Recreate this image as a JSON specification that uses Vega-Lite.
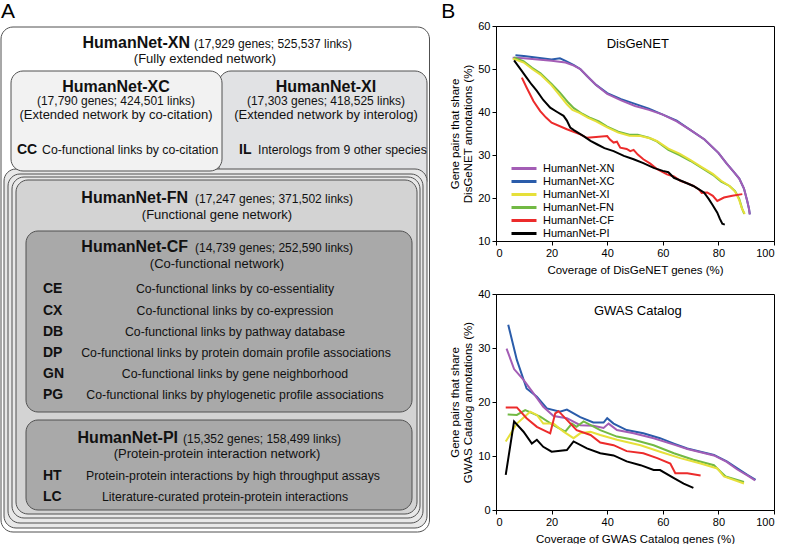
{
  "$schema": "https://vega.github.io/schema/vega-lite/v6.json",
  "padding": 0,
  "background": "white",
  "spacing": 10,
  "config": {
    "font": "Liberation Sans",
    "axis": {"labelFont": "Liberation Sans", "labelFontSize": 11, "labelColor": "black", "titleFont": "Liberation Sans", "titleFontSize": 11.5, "titleFontWeight": "normal", "titleColor": "black", "domainColor": "black", "tickColor": "black", "tickSize": 4, "grid": false, "labelPadding": 2},
    "title": {"font": "Liberation Sans", "color": "black"}
  },
  "datasets": {
    "boxes": [
      {"b": "XN", "x0": 1, "x1": 429.5, "y0": 26, "y1": 531, "tone": "xn"},
      {"b": "XI top", "x0": 219, "x1": 427, "y0": 70, "y1": 190, "tone": "xi"},
      {"b": "XI low", "x0": 4, "x1": 427, "y0": 168, "y1": 527, "tone": "low"},
      {"b": "XC top", "x0": 11, "x1": 222, "y0": 70, "y1": 170, "tone": "xc"},
      {"b": "XC low", "x0": 8, "x1": 423, "y0": 173, "y1": 522, "tone": "low"},
      {"b": "FN outer", "x0": 12, "x1": 420, "y0": 176, "y1": 517, "tone": "low"},
      {"b": "FN", "x0": 16, "x1": 417, "y0": 179, "y1": 513, "tone": "fn"},
      {"b": "CF", "x0": 26, "x1": 412, "y0": 230, "y1": 411, "tone": "cf"},
      {"b": "PI", "x0": 26, "x1": 412, "y0": 419, "y1": 509, "tone": "cf"}
    ],
    "labels": [
      {"kind": "name", "px": 190, "py": 47, "t": "HumanNet-XN"},
      {"kind": "detail", "px": 194, "py": 47, "t": "(17,929 genes; 525,537 links)"},
      {"kind": "sub", "px": 205, "py": 62, "t": "(Fully extended network)"},
      {"kind": "nameC", "px": 116, "py": 91, "t": "HumanNet-XC"},
      {"kind": "detailC", "px": 116, "py": 104, "t": "(17,790 genes; 424,501 links)"},
      {"kind": "sub", "px": 116, "py": 118, "t": "(Extended network by co-citation)"},
      {"kind": "code", "px": 17, "py": 153, "t": "CC"},
      {"kind": "descL", "px": 42, "py": 153, "t": "Co-functional links by co-citation"},
      {"kind": "nameC", "px": 326, "py": 91, "t": "HumanNet-XI"},
      {"kind": "detailC", "px": 326, "py": 104, "t": "(17,303 genes; 418,525 links)"},
      {"kind": "sub", "px": 326, "py": 118, "t": "(Extended network by interolog)"},
      {"kind": "code", "px": 239, "py": 153, "t": "IL"},
      {"kind": "descL", "px": 258, "py": 153, "t": "Interologs from 9 other species"},
      {"kind": "name", "px": 188, "py": 202, "t": "HumanNet-FN"},
      {"kind": "detail", "px": 195, "py": 202, "t": "(17,247 genes; 371,502 links)"},
      {"kind": "sub", "px": 217, "py": 218, "t": "(Functional gene network)"},
      {"kind": "name", "px": 188, "py": 251, "t": "HumanNet-CF"},
      {"kind": "detail", "px": 195, "py": 251, "t": "(14,739 genes; 252,590 links)"},
      {"kind": "sub", "px": 217, "py": 267, "t": "(Co-functional network)"},
      {"kind": "code", "px": 43, "py": 292, "t": "CE"},
      {"kind": "desc", "px": 235, "py": 292, "t": "Co-functional links by co-essentiality"},
      {"kind": "code", "px": 43, "py": 313.5, "t": "CX"},
      {"kind": "desc", "px": 235, "py": 313.5, "t": "Co-functional links by co-expression"},
      {"kind": "code", "px": 43, "py": 335, "t": "DB"},
      {"kind": "desc", "px": 235, "py": 335, "t": "Co-functional links by pathway database"},
      {"kind": "code", "px": 43, "py": 356, "t": "DP"},
      {"kind": "desc", "px": 236, "py": 356, "t": "Co-functional links by protein domain profile associations"},
      {"kind": "code", "px": 43, "py": 377, "t": "GN"},
      {"kind": "desc", "px": 235, "py": 377, "t": "Co-functional links by gene neighborhood"},
      {"kind": "code", "px": 43, "py": 398, "t": "PG"},
      {"kind": "desc", "px": 235, "py": 398, "t": "Co-functional links by phylogenetic profile associations"},
      {"kind": "name", "px": 178, "py": 442, "t": "HumanNet-PI"},
      {"kind": "detail", "px": 183, "py": 442, "t": "(15,352 genes; 158,499 links)"},
      {"kind": "sub", "px": 217, "py": 457, "t": "(Protein-protein interaction network)"},
      {"kind": "code", "px": 43, "py": 479, "t": "HT"},
      {"kind": "desc", "px": 233, "py": 479, "t": "Protein-protein interactions by high throughput assays"},
      {"kind": "code", "px": 43, "py": 500, "t": "LC"},
      {"kind": "desc", "px": 225, "py": 500, "t": "Literature-curated protein-protein interactions"}
    ],
    "disgenet": [
      {"net": "HumanNet-XC", "cov": 7, "share": 53.2}, {"net": "HumanNet-XC", "cov": 10, "share": 53}, {"net": "HumanNet-XC", "cov": 15, "share": 52.6}, {"net": "HumanNet-XC", "cov": 20, "share": 52.2}, {"net": "HumanNet-XC", "cov": 23, "share": 52.5}, {"net": "HumanNet-XC", "cov": 25, "share": 51.9}, {"net": "HumanNet-XC", "cov": 28, "share": 50.9}, {"net": "HumanNet-XC", "cov": 30.3, "share": 50}, {"net": "HumanNet-XC", "cov": 33, "share": 48.2}, {"net": "HumanNet-XC", "cov": 36, "share": 46.3}, {"net": "HumanNet-XC", "cov": 40, "share": 44.4}, {"net": "HumanNet-XC", "cov": 45, "share": 43}, {"net": "HumanNet-XC", "cov": 50, "share": 41.9}, {"net": "HumanNet-XC", "cov": 55, "share": 40.8}, {"net": "HumanNet-XC", "cov": 60, "share": 39.4}, {"net": "HumanNet-XC", "cov": 65, "share": 38}, {"net": "HumanNet-XC", "cov": 70, "share": 35.8}, {"net": "HumanNet-XC", "cov": 75, "share": 33.6}, {"net": "HumanNet-XC", "cov": 80, "share": 30.5}, {"net": "HumanNet-XC", "cov": 83, "share": 28}, {"net": "HumanNet-XC", "cov": 85.6, "share": 26}, {"net": "HumanNet-XC", "cov": 87.5, "share": 24.5}, {"net": "HumanNet-XC", "cov": 89.2, "share": 22.2}, {"net": "HumanNet-XC", "cov": 90.3, "share": 19.5}, {"net": "HumanNet-XC", "cov": 91, "share": 17.5}, {"net": "HumanNet-XC", "cov": 91.3, "share": 16.2},
      {"net": "HumanNet-XN", "cov": 6, "share": 52.6}, {"net": "HumanNet-XN", "cov": 10, "share": 52.5}, {"net": "HumanNet-XN", "cov": 15, "share": 52.2}, {"net": "HumanNet-XN", "cov": 20, "share": 51.9}, {"net": "HumanNet-XN", "cov": 25, "share": 51.5}, {"net": "HumanNet-XN", "cov": 28, "share": 50.8}, {"net": "HumanNet-XN", "cov": 30.3, "share": 50}, {"net": "HumanNet-XN", "cov": 33, "share": 48.2}, {"net": "HumanNet-XN", "cov": 36, "share": 46.3}, {"net": "HumanNet-XN", "cov": 40, "share": 44.2}, {"net": "HumanNet-XN", "cov": 45, "share": 42.7}, {"net": "HumanNet-XN", "cov": 50, "share": 41.4}, {"net": "HumanNet-XN", "cov": 55, "share": 40.5}, {"net": "HumanNet-XN", "cov": 60, "share": 39.4}, {"net": "HumanNet-XN", "cov": 65, "share": 37.8}, {"net": "HumanNet-XN", "cov": 70, "share": 35.8}, {"net": "HumanNet-XN", "cov": 75, "share": 33.6}, {"net": "HumanNet-XN", "cov": 80, "share": 30.5}, {"net": "HumanNet-XN", "cov": 83, "share": 28}, {"net": "HumanNet-XN", "cov": 85.6, "share": 26}, {"net": "HumanNet-XN", "cov": 87.5, "share": 24.5}, {"net": "HumanNet-XN", "cov": 89.2, "share": 22.2}, {"net": "HumanNet-XN", "cov": 90.3, "share": 19.5}, {"net": "HumanNet-XN", "cov": 91, "share": 17.5}, {"net": "HumanNet-XN", "cov": 91.3, "share": 16.2},
      {"net": "HumanNet-FN", "cov": 6.5, "share": 52.7}, {"net": "HumanNet-FN", "cov": 10, "share": 51.8}, {"net": "HumanNet-FN", "cov": 13, "share": 50.3}, {"net": "HumanNet-FN", "cov": 16, "share": 49}, {"net": "HumanNet-FN", "cov": 20, "share": 46.5}, {"net": "HumanNet-FN", "cov": 23, "share": 44.5}, {"net": "HumanNet-FN", "cov": 26, "share": 42.2}, {"net": "HumanNet-FN", "cov": 28, "share": 40.9}, {"net": "HumanNet-FN", "cov": 31, "share": 39.6}, {"net": "HumanNet-FN", "cov": 34, "share": 38.6}, {"net": "HumanNet-FN", "cov": 37, "share": 37.8}, {"net": "HumanNet-FN", "cov": 40, "share": 36.6}, {"net": "HumanNet-FN", "cov": 44, "share": 35.4}, {"net": "HumanNet-FN", "cov": 48, "share": 34.7}, {"net": "HumanNet-FN", "cov": 51, "share": 34.7}, {"net": "HumanNet-FN", "cov": 55, "share": 34}, {"net": "HumanNet-FN", "cov": 58, "share": 33.1}, {"net": "HumanNet-FN", "cov": 62, "share": 31.2}, {"net": "HumanNet-FN", "cov": 66, "share": 30}, {"net": "HumanNet-FN", "cov": 70, "share": 28.6}, {"net": "HumanNet-FN", "cov": 74, "share": 27}, {"net": "HumanNet-FN", "cov": 78, "share": 25.4}, {"net": "HumanNet-FN", "cov": 81, "share": 23.8}, {"net": "HumanNet-FN", "cov": 84, "share": 22.8}, {"net": "HumanNet-FN", "cov": 86, "share": 21.6}, {"net": "HumanNet-FN", "cov": 87.5, "share": 19.8}, {"net": "HumanNet-FN", "cov": 88.5, "share": 17.6}, {"net": "HumanNet-FN", "cov": 89.3, "share": 16.3},
      {"net": "HumanNet-XI", "cov": 6, "share": 52.4}, {"net": "HumanNet-XI", "cov": 10, "share": 51.5}, {"net": "HumanNet-XI", "cov": 13, "share": 50}, {"net": "HumanNet-XI", "cov": 16, "share": 48.7}, {"net": "HumanNet-XI", "cov": 20, "share": 46.2}, {"net": "HumanNet-XI", "cov": 23, "share": 43.8}, {"net": "HumanNet-XI", "cov": 25.5, "share": 41.8}, {"net": "HumanNet-XI", "cov": 27.5, "share": 40.5}, {"net": "HumanNet-XI", "cov": 30, "share": 39.8}, {"net": "HumanNet-XI", "cov": 33, "share": 38.7}, {"net": "HumanNet-XI", "cov": 36, "share": 37.8}, {"net": "HumanNet-XI", "cov": 40, "share": 36.4}, {"net": "HumanNet-XI", "cov": 44, "share": 35.2}, {"net": "HumanNet-XI", "cov": 48, "share": 34.5}, {"net": "HumanNet-XI", "cov": 52, "share": 34.4}, {"net": "HumanNet-XI", "cov": 56, "share": 33.8}, {"net": "HumanNet-XI", "cov": 58, "share": 33.2}, {"net": "HumanNet-XI", "cov": 62, "share": 31.5}, {"net": "HumanNet-XI", "cov": 66, "share": 30.3}, {"net": "HumanNet-XI", "cov": 70, "share": 28.8}, {"net": "HumanNet-XI", "cov": 74, "share": 27.2}, {"net": "HumanNet-XI", "cov": 78, "share": 25.6}, {"net": "HumanNet-XI", "cov": 81, "share": 24}, {"net": "HumanNet-XI", "cov": 84, "share": 22.8}, {"net": "HumanNet-XI", "cov": 86, "share": 21.5}, {"net": "HumanNet-XI", "cov": 87.5, "share": 19.5}, {"net": "HumanNet-XI", "cov": 88.5, "share": 17.5}, {"net": "HumanNet-XI", "cov": 89.5, "share": 16.3},
      {"net": "HumanNet-CF", "cov": 9.3, "share": 48}, {"net": "HumanNet-CF", "cov": 11, "share": 45.7}, {"net": "HumanNet-CF", "cov": 13.5, "share": 42.5}, {"net": "HumanNet-CF", "cov": 15.9, "share": 40.2}, {"net": "HumanNet-CF", "cov": 18, "share": 38.7}, {"net": "HumanNet-CF", "cov": 20, "share": 37.5}, {"net": "HumanNet-CF", "cov": 25.5, "share": 36}, {"net": "HumanNet-CF", "cov": 30.3, "share": 34.8}, {"net": "HumanNet-CF", "cov": 32.7, "share": 34}, {"net": "HumanNet-CF", "cov": 36, "share": 34.2}, {"net": "HumanNet-CF", "cov": 40, "share": 34.4}, {"net": "HumanNet-CF", "cov": 41, "share": 33.6}, {"net": "HumanNet-CF", "cov": 42.3, "share": 32.9}, {"net": "HumanNet-CF", "cov": 43.5, "share": 33.1}, {"net": "HumanNet-CF", "cov": 44.7, "share": 31.7}, {"net": "HumanNet-CF", "cov": 47, "share": 31.4}, {"net": "HumanNet-CF", "cov": 48.3, "share": 30.9}, {"net": "HumanNet-CF", "cov": 49.5, "share": 31.2}, {"net": "HumanNet-CF", "cov": 51, "share": 30.1}, {"net": "HumanNet-CF", "cov": 53, "share": 29}, {"net": "HumanNet-CF", "cov": 55.5, "share": 28}, {"net": "HumanNet-CF", "cov": 58, "share": 26.7}, {"net": "HumanNet-CF", "cov": 61.5, "share": 25.5}, {"net": "HumanNet-CF", "cov": 64, "share": 25}, {"net": "HumanNet-CF", "cov": 66.3, "share": 24}, {"net": "HumanNet-CF", "cov": 68.5, "share": 23.5}, {"net": "HumanNet-CF", "cov": 71, "share": 22.8}, {"net": "HumanNet-CF", "cov": 73, "share": 22}, {"net": "HumanNet-CF", "cov": 74, "share": 21.2}, {"net": "HumanNet-CF", "cov": 76, "share": 21.3}, {"net": "HumanNet-CF", "cov": 78, "share": 20.5}, {"net": "HumanNet-CF", "cov": 79.6, "share": 19.3}, {"net": "HumanNet-CF", "cov": 82, "share": 20.1}, {"net": "HumanNet-CF", "cov": 85, "share": 20.5}, {"net": "HumanNet-CF", "cov": 88.6, "share": 20.9},
      {"net": "HumanNet-PI", "cov": 6.5, "share": 52}, {"net": "HumanNet-PI", "cov": 9, "share": 49.8}, {"net": "HumanNet-PI", "cov": 11, "share": 48}, {"net": "HumanNet-PI", "cov": 12.8, "share": 46.4}, {"net": "HumanNet-PI", "cov": 14.7, "share": 44.9}, {"net": "HumanNet-PI", "cov": 17, "share": 42.8}, {"net": "HumanNet-PI", "cov": 19.5, "share": 41}, {"net": "HumanNet-PI", "cov": 22, "share": 40}, {"net": "HumanNet-PI", "cov": 24.3, "share": 39.1}, {"net": "HumanNet-PI", "cov": 25.5, "share": 38}, {"net": "HumanNet-PI", "cov": 26.7, "share": 36.4}, {"net": "HumanNet-PI", "cov": 28, "share": 35.8}, {"net": "HumanNet-PI", "cov": 31.5, "share": 34.4}, {"net": "HumanNet-PI", "cov": 34, "share": 33.3}, {"net": "HumanNet-PI", "cov": 36.3, "share": 32.5}, {"net": "HumanNet-PI", "cov": 39, "share": 31.6}, {"net": "HumanNet-PI", "cov": 42.3, "share": 30.9}, {"net": "HumanNet-PI", "cov": 46, "share": 29.8}, {"net": "HumanNet-PI", "cov": 49.5, "share": 29}, {"net": "HumanNet-PI", "cov": 53, "share": 28.1}, {"net": "HumanNet-PI", "cov": 56.7, "share": 27}, {"net": "HumanNet-PI", "cov": 60, "share": 26.3}, {"net": "HumanNet-PI", "cov": 62, "share": 26}, {"net": "HumanNet-PI", "cov": 64, "share": 24.7}, {"net": "HumanNet-PI", "cov": 67, "share": 23.9}, {"net": "HumanNet-PI", "cov": 71, "share": 22.8}, {"net": "HumanNet-PI", "cov": 73, "share": 22}, {"net": "HumanNet-PI", "cov": 74.8, "share": 21.3}, {"net": "HumanNet-PI", "cov": 76.5, "share": 19.8}, {"net": "HumanNet-PI", "cov": 77.8, "share": 18.5}, {"net": "HumanNet-PI", "cov": 79.6, "share": 16.6}, {"net": "HumanNet-PI", "cov": 80.5, "share": 15.2}, {"net": "HumanNet-PI", "cov": 81.4, "share": 14}, {"net": "HumanNet-PI", "cov": 82.3, "share": 13.8}
    ],
    "gwas": [
      {"net": "HumanNet-XC", "cov": 4.4, "share": 34.3}, {"net": "HumanNet-XC", "cov": 7.5, "share": 27.8}, {"net": "HumanNet-XC", "cov": 11, "share": 22.5}, {"net": "HumanNet-XC", "cov": 14.7, "share": 21}, {"net": "HumanNet-XC", "cov": 18.3, "share": 18.8}, {"net": "HumanNet-XC", "cov": 23, "share": 18.2}, {"net": "HumanNet-XC", "cov": 25.5, "share": 18.6}, {"net": "HumanNet-XC", "cov": 30.3, "share": 17.2}, {"net": "HumanNet-XC", "cov": 35, "share": 16.2}, {"net": "HumanNet-XC", "cov": 38.7, "share": 16.2}, {"net": "HumanNet-XC", "cov": 40, "share": 17}, {"net": "HumanNet-XC", "cov": 42.3, "share": 16}, {"net": "HumanNet-XC", "cov": 47, "share": 14.8}, {"net": "HumanNet-XC", "cov": 53, "share": 14.2}, {"net": "HumanNet-XC", "cov": 59, "share": 13.3}, {"net": "HumanNet-XC", "cov": 64, "share": 12.3}, {"net": "HumanNet-XC", "cov": 68.8, "share": 11.4}, {"net": "HumanNet-XC", "cov": 73.6, "share": 10.8}, {"net": "HumanNet-XC", "cov": 78.4, "share": 10.2}, {"net": "HumanNet-XC", "cov": 83, "share": 9}, {"net": "HumanNet-XC", "cov": 86.8, "share": 7.7}, {"net": "HumanNet-XC", "cov": 90.4, "share": 6.5}, {"net": "HumanNet-XC", "cov": 93.4, "share": 5.6},
      {"net": "HumanNet-XN", "cov": 3.8, "share": 29.9}, {"net": "HumanNet-XN", "cov": 6.5, "share": 26.1}, {"net": "HumanNet-XN", "cov": 9.9, "share": 24.1}, {"net": "HumanNet-XN", "cov": 13.5, "share": 21.6}, {"net": "HumanNet-XN", "cov": 17, "share": 19.1}, {"net": "HumanNet-XN", "cov": 20.7, "share": 17.4}, {"net": "HumanNet-XN", "cov": 25.5, "share": 17}, {"net": "HumanNet-XN", "cov": 30.3, "share": 15.7}, {"net": "HumanNet-XN", "cov": 35, "share": 15.6}, {"net": "HumanNet-XN", "cov": 38.7, "share": 15.2}, {"net": "HumanNet-XN", "cov": 40.5, "share": 16}, {"net": "HumanNet-XN", "cov": 43.5, "share": 14.8}, {"net": "HumanNet-XN", "cov": 49.5, "share": 14.2}, {"net": "HumanNet-XN", "cov": 56.7, "share": 13.3}, {"net": "HumanNet-XN", "cov": 64, "share": 12.1}, {"net": "HumanNet-XN", "cov": 68.8, "share": 11.3}, {"net": "HumanNet-XN", "cov": 73.6, "share": 10.7}, {"net": "HumanNet-XN", "cov": 78.4, "share": 10.1}, {"net": "HumanNet-XN", "cov": 83, "share": 8.9}, {"net": "HumanNet-XN", "cov": 86.8, "share": 7.5}, {"net": "HumanNet-XN", "cov": 90.4, "share": 6.4}, {"net": "HumanNet-XN", "cov": 93.2, "share": 5.5},
      {"net": "HumanNet-FN", "cov": 4.2, "share": 17.7}, {"net": "HumanNet-FN", "cov": 7.5, "share": 17.6}, {"net": "HumanNet-FN", "cov": 10.5, "share": 18.5}, {"net": "HumanNet-FN", "cov": 15.9, "share": 17.3}, {"net": "HumanNet-FN", "cov": 20.7, "share": 15.7}, {"net": "HumanNet-FN", "cov": 24.9, "share": 14.5}, {"net": "HumanNet-FN", "cov": 27.3, "share": 16}, {"net": "HumanNet-FN", "cov": 29, "share": 15.4}, {"net": "HumanNet-FN", "cov": 31.5, "share": 16.4}, {"net": "HumanNet-FN", "cov": 37.5, "share": 14.8}, {"net": "HumanNet-FN", "cov": 43.5, "share": 13.6}, {"net": "HumanNet-FN", "cov": 49.5, "share": 13}, {"net": "HumanNet-FN", "cov": 56.7, "share": 12}, {"net": "HumanNet-FN", "cov": 64, "share": 10.5}, {"net": "HumanNet-FN", "cov": 71, "share": 9.3}, {"net": "HumanNet-FN", "cov": 78.4, "share": 8.3}, {"net": "HumanNet-FN", "cov": 80.8, "share": 7.1}, {"net": "HumanNet-FN", "cov": 82.6, "share": 6.2}, {"net": "HumanNet-FN", "cov": 89.2, "share": 5.2},
      {"net": "HumanNet-XI", "cov": 3.5, "share": 12.7}, {"net": "HumanNet-XI", "cov": 7.5, "share": 16}, {"net": "HumanNet-XI", "cov": 12.3, "share": 18.2}, {"net": "HumanNet-XI", "cov": 14.7, "share": 17.6}, {"net": "HumanNet-XI", "cov": 17, "share": 16}, {"net": "HumanNet-XI", "cov": 20.7, "share": 16}, {"net": "HumanNet-XI", "cov": 24.3, "share": 14.5}, {"net": "HumanNet-XI", "cov": 27.9, "share": 13.3}, {"net": "HumanNet-XI", "cov": 30.3, "share": 14.2}, {"net": "HumanNet-XI", "cov": 34, "share": 14.5}, {"net": "HumanNet-XI", "cov": 37.5, "share": 13.9}, {"net": "HumanNet-XI", "cov": 43.5, "share": 13}, {"net": "HumanNet-XI", "cov": 52, "share": 12}, {"net": "HumanNet-XI", "cov": 59, "share": 10.8}, {"net": "HumanNet-XI", "cov": 66.3, "share": 9.6}, {"net": "HumanNet-XI", "cov": 73.6, "share": 8.6}, {"net": "HumanNet-XI", "cov": 79.6, "share": 7.7}, {"net": "HumanNet-XI", "cov": 82, "share": 6.2}, {"net": "HumanNet-XI", "cov": 89.2, "share": 4.9},
      {"net": "HumanNet-CF", "cov": 3.5, "share": 19}, {"net": "HumanNet-CF", "cov": 7.5, "share": 19}, {"net": "HumanNet-CF", "cov": 11, "share": 17}, {"net": "HumanNet-CF", "cov": 14.7, "share": 15.4}, {"net": "HumanNet-CF", "cov": 19.5, "share": 14.2}, {"net": "HumanNet-CF", "cov": 21.3, "share": 17.9}, {"net": "HumanNet-CF", "cov": 22.5, "share": 18.3}, {"net": "HumanNet-CF", "cov": 25.5, "share": 16.7}, {"net": "HumanNet-CF", "cov": 29, "share": 14.8}, {"net": "HumanNet-CF", "cov": 34, "share": 13.9}, {"net": "HumanNet-CF", "cov": 37.5, "share": 12.5}, {"net": "HumanNet-CF", "cov": 42.3, "share": 12}, {"net": "HumanNet-CF", "cov": 47, "share": 10.9}, {"net": "HumanNet-CF", "cov": 53, "share": 10.5}, {"net": "HumanNet-CF", "cov": 58, "share": 9.6}, {"net": "HumanNet-CF", "cov": 62.7, "share": 8.6}, {"net": "HumanNet-CF", "cov": 64.5, "share": 6.8}, {"net": "HumanNet-CF", "cov": 68.8, "share": 6.8}, {"net": "HumanNet-CF", "cov": 73.6, "share": 6.4},
      {"net": "HumanNet-PI", "cov": 3.5, "share": 6.5}, {"net": "HumanNet-PI", "cov": 6.5, "share": 16.4}, {"net": "HumanNet-PI", "cov": 9.9, "share": 14.5}, {"net": "HumanNet-PI", "cov": 12.9, "share": 12.3}, {"net": "HumanNet-PI", "cov": 14.7, "share": 13}, {"net": "HumanNet-PI", "cov": 17, "share": 11.7}, {"net": "HumanNet-PI", "cov": 20, "share": 10.8}, {"net": "HumanNet-PI", "cov": 25.5, "share": 11.1}, {"net": "HumanNet-PI", "cov": 27.9, "share": 12.7}, {"net": "HumanNet-PI", "cov": 32.7, "share": 11.4}, {"net": "HumanNet-PI", "cov": 37.5, "share": 10.5}, {"net": "HumanNet-PI", "cov": 42.3, "share": 10.1}, {"net": "HumanNet-PI", "cov": 47, "share": 9}, {"net": "HumanNet-PI", "cov": 52, "share": 8.3}, {"net": "HumanNet-PI", "cov": 56.7, "share": 7.4}, {"net": "HumanNet-PI", "cov": 59, "share": 7.4}, {"net": "HumanNet-PI", "cov": 64, "share": 5.9}, {"net": "HumanNet-PI", "cov": 67.5, "share": 4.9}, {"net": "HumanNet-PI", "cov": 71, "share": 4.1}
    ]
  },
  "hconcat": [
    {
      "width": 430,
      "height": 519,
      "title": {"text": "A", "anchor": "start", "frame": "bounds", "fontSize": 21, "fontWeight": "normal", "offset": 4, "dx": 1},
      "view": {"stroke": null},
      "layer": [
        {
          "data": {"name": "boxes"},
          "mark": {"type": "rect", "cornerRadius": 12, "stroke": "#505050", "strokeWidth": 1},
          "encoding": {
            "x": {"field": "x0", "type": "quantitative", "scale": {"domain": [0, 430], "nice": false, "zero": false}, "axis": null},
            "x2": {"field": "x1"},
            "y": {"field": "y0", "type": "quantitative", "scale": {"domain": [25, 544], "nice": false, "zero": false, "reverse": true}, "axis": null},
            "y2": {"field": "y1"},
            "fill": {"field": "tone", "type": "nominal", "scale": {"domain": ["xn", "xc", "xi", "low", "fn", "cf"], "range": ["#ffffff", "#f2f2f2", "#e1e2e4", "#e8e8e8", "#d3d3d3", "#a9a9a9"]}, "legend": null}
          }
        },
        {
          "data": {"name": "labels"},
          "transform": [{"filter": "datum.kind === 'name'"}],
          "mark": {"type": "text", "fontSize": 16, "fontWeight": "bold", "align": "right", "baseline": "alphabetic", "color": "#111"},
          "encoding": {"x": {"field": "px", "type": "quantitative"}, "y": {"field": "py", "type": "quantitative"}, "text": {"field": "t"}}
        },
        {
          "data": {"name": "labels"},
          "transform": [{"filter": "datum.kind === 'nameC'"}],
          "mark": {"type": "text", "fontSize": 16, "fontWeight": "bold", "align": "center", "baseline": "alphabetic", "color": "#111"},
          "encoding": {"x": {"field": "px", "type": "quantitative"}, "y": {"field": "py", "type": "quantitative"}, "text": {"field": "t"}}
        },
        {
          "data": {"name": "labels"},
          "transform": [{"filter": "datum.kind === 'detail'"}],
          "mark": {"type": "text", "fontSize": 12, "align": "left", "baseline": "alphabetic", "color": "#111"},
          "encoding": {"x": {"field": "px", "type": "quantitative"}, "y": {"field": "py", "type": "quantitative"}, "text": {"field": "t"}}
        },
        {
          "data": {"name": "labels"},
          "transform": [{"filter": "datum.kind === 'detailC'"}],
          "mark": {"type": "text", "fontSize": 12, "align": "center", "baseline": "alphabetic", "color": "#111"},
          "encoding": {"x": {"field": "px", "type": "quantitative"}, "y": {"field": "py", "type": "quantitative"}, "text": {"field": "t"}}
        },
        {
          "data": {"name": "labels"},
          "transform": [{"filter": "datum.kind === 'sub'"}],
          "mark": {"type": "text", "fontSize": 13, "align": "center", "baseline": "alphabetic", "color": "#111"},
          "encoding": {"x": {"field": "px", "type": "quantitative"}, "y": {"field": "py", "type": "quantitative"}, "text": {"field": "t"}}
        },
        {
          "data": {"name": "labels"},
          "transform": [{"filter": "datum.kind === 'code'"}],
          "mark": {"type": "text", "fontSize": 14, "fontWeight": "bold", "align": "left", "baseline": "alphabetic", "color": "#111"},
          "encoding": {"x": {"field": "px", "type": "quantitative"}, "y": {"field": "py", "type": "quantitative"}, "text": {"field": "t"}}
        },
        {
          "data": {"name": "labels"},
          "transform": [{"filter": "datum.kind === 'desc'"}],
          "mark": {"type": "text", "fontSize": 12.3, "align": "center", "baseline": "alphabetic", "color": "#111"},
          "encoding": {"x": {"field": "px", "type": "quantitative"}, "y": {"field": "py", "type": "quantitative"}, "text": {"field": "t"}}
        },
        {
          "data": {"name": "labels"},
          "transform": [{"filter": "datum.kind === 'descL'"}],
          "mark": {"type": "text", "fontSize": 12.3, "align": "left", "baseline": "alphabetic", "color": "#111"},
          "encoding": {"x": {"field": "px", "type": "quantitative"}, "y": {"field": "py", "type": "quantitative"}, "text": {"field": "t"}}
        }
      ]
    },
    {
      "spacing": 11,
      "resolve": {"legend": {"color": "independent"}},
      "vconcat": [
        {
          "width": 278,
          "height": 215,
          "title": {"text": "B", "anchor": "start", "frame": "bounds", "fontSize": 21, "fontWeight": "normal", "dx": -8, "offset": -2},
          "view": {"stroke": "black", "strokeWidth": 1},
          "layer": [
            {
              "data": {"name": "disgenet"},
              "mark": {"type": "line", "strokeWidth": 2},
              "encoding": {
                "x": {"field": "cov", "type": "quantitative", "scale": {"domain": [0, 100], "nice": false}, "axis": {"title": "Coverage of DisGeNET genes (%)", "values": [0, 20, 40, 60, 80, 100], "titlePadding": 6}},
                "y": {"field": "share", "type": "quantitative", "scale": {"domain": [10, 60], "nice": false, "zero": false}, "axis": {"title": ["Gene pairs that share", "DisGeNET annotations (%)"], "values": [10, 20, 30, 40, 50, 60], "titlePadding": 4}},
                "color": {"field": "net", "type": "nominal", "scale": {"domain": ["HumanNet-XN", "HumanNet-XC", "HumanNet-XI", "HumanNet-FN", "HumanNet-CF", "HumanNet-PI"], "range": ["#a35db5", "#2a5caa", "#e6e03a", "#72b944", "#ec2b2b", "#000000"]},
                  "legend": {"orient": "none", "legendX": 21.5, "legendY": 136, "title": null, "symbolType": "M-2.5,0H2.5", "symbolStrokeWidth": 3, "symbolSize": 100, "labelFontSize": 11, "labelFont": "Liberation Sans", "labelColor": "black", "rowPadding": 0, "labelOffset": 12.5, "padding": 0}}
              }
            },
            {
              "data": {"values": [{"label": "DisGeNET", "lx": 51, "ly": 55.7}]},
              "mark": {"type": "text", "fontSize": 13, "align": "center", "baseline": "middle", "color": "black"},
              "encoding": {"x": {"field": "lx", "type": "quantitative"}, "y": {"field": "ly", "type": "quantitative"}, "text": {"field": "label"}}
            }
          ]
        },
        {
          "width": 278,
          "height": 216,
          "view": {"stroke": "black", "strokeWidth": 1},
          "layer": [
            {
              "data": {"name": "gwas"},
              "mark": {"type": "line", "strokeWidth": 2},
              "encoding": {
                "x": {"field": "cov", "type": "quantitative", "scale": {"domain": [0, 100], "nice": false}, "axis": {"title": "Coverage of GWAS Catalog genes (%)", "values": [0, 20, 40, 60, 80, 100], "titlePadding": 6}},
                "y": {"field": "share", "type": "quantitative", "scale": {"domain": [0, 40], "nice": false}, "axis": {"title": ["Gene pairs that share", "GWAS Catalog annotations (%)"], "values": [0, 5, 10, 15, 20, 25, 30, 35, 40], "titlePadding": 4}},
                "color": {"field": "net", "type": "nominal", "scale": {"domain": ["HumanNet-XN", "HumanNet-XC", "HumanNet-XI", "HumanNet-FN", "HumanNet-CF", "HumanNet-PI"], "range": ["#a35db5", "#2a5caa", "#e6e03a", "#72b944", "#ec2b2b", "#000000"]}, "legend": null}
              }
            },
            {
              "data": {"values": [{"label": "GWAS Catalog", "lx": 51, "ly": 36.9}]},
              "mark": {"type": "text", "fontSize": 13, "align": "center", "baseline": "middle", "color": "black"},
              "encoding": {"x": {"field": "lx", "type": "quantitative"}, "y": {"field": "ly", "type": "quantitative"}, "text": {"field": "label"}}
            }
          ]
        }
      ]
    }
  ]
}
